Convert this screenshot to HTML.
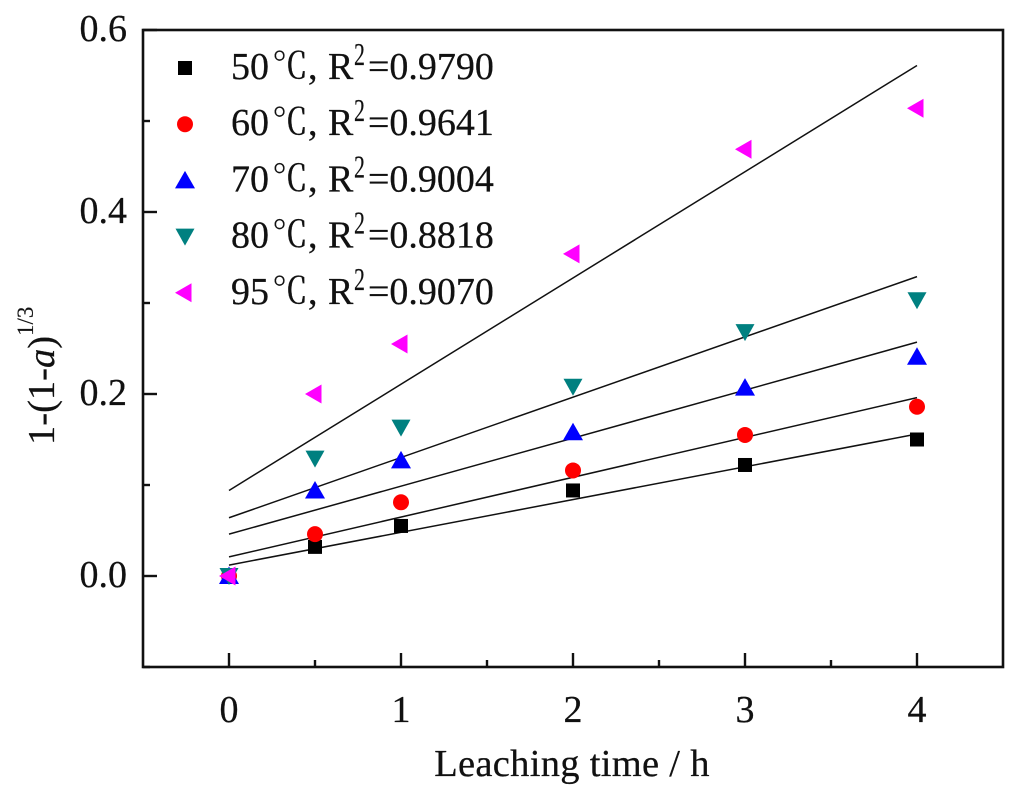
<!DOCTYPE html>
<html lang="en">
<head>
<meta charset="utf-8">
<title>Leaching kinetics chart</title>
<style>
html,body{margin:0;padding:0;background:#fff;}
svg{display:block;}
text{font-family:"Liberation Serif","Noto Serif CJK SC",serif;fill:#111;font-size:38px;stroke:#111;stroke-width:0.25px;}
</style>
</head>
<body>
<svg id="chart" width="1024" height="795" viewBox="0 0 1024 795" xmlns="http://www.w3.org/2000/svg"></svg>
<script>
const times = [0, 0.5, 1, 2, 3, 4];
const seriesNames = ['50', '60', '70', '80', '95'];
const seriesR2 = ['0.9790', '0.9641', '0.9004', '0.8818', '0.9070'];
const series50 = [0, 0.032, 0.055, 0.094, 0.122, 0.150];
const series60 = [0, 0.046, 0.081, 0.116, 0.155, 0.186];
const series70 = [0, 0.094, 0.127, 0.158, 0.207, 0.241];
const series80 = [0, 0.129, 0.163, 0.208, 0.268, 0.303];
const series95 = [0, 0.200, 0.255, 0.354, 0.469, 0.514];
const fitStart = [0.012, 0.021, 0.046, 0.064, 0.094];
const fitEnd = [0.156, 0.196, 0.257, 0.329, 0.561];
const fitTimeRange = [0, 4];
const xTickLabels = ['0', '1', '2', '3', '4'];
const xMinorTicks = [0.5, 1.5, 2.5, 3.5];
const yTickLabels = ['0.0', '0.2', '0.4', '0.6'];
const yMinorTicks = [-0.1, 0.1, 0.3, 0.5];

const NS = 'http://www.w3.org/2000/svg';
const svg = document.getElementById('chart');
const plot = {left: 143, right: 1003, top: 30, bottom: 667};
const xDomain = [-0.5, 4.5];
const yDomain = [-0.1, 0.6];
const colors = ['#000000', '#ff0000', '#0000ff', '#008080', '#ff00ff'];
const allSeries = [series50, series60, series70, series80, series95];

function xScale(v) {
  return plot.left + (v - xDomain[0]) / (xDomain[1] - xDomain[0]) * (plot.right - plot.left);
}
function yScale(v) {
  return plot.bottom - (v - yDomain[0]) / (yDomain[1] - yDomain[0]) * (plot.bottom - plot.top);
}
function make(tag, attrs, parent) {
  const el = document.createElementNS(NS, tag);
  for (const k in attrs) el.setAttribute(k, attrs[k]);
  (parent || svg).appendChild(el);
  return el;
}
function drawMarker(kind, cx, cy, color) {
  let el;
  if (kind === 0) {
    el = make('rect', {x: cx - 7, y: cy - 7, width: 14, height: 14, fill: color});
  } else if (kind === 1) {
    el = make('circle', {cx: cx, cy: cy, r: 8, fill: color});
  } else if (kind === 2) {
    el = make('polygon', {points: [cx, cy - 9.5, cx + 10, cy + 8, cx - 10, cy + 8].join(' '), fill: color});
  } else if (kind === 3) {
    el = make('polygon', {points: [cx - 9.5, cy - 8, cx + 9.5, cy - 8, cx, cy + 9].join(' '), fill: color});
  } else {
    el = make('polygon', {points: [cx - 10, cy, cx + 6.5, cy - 9.5, cx + 6.5, cy + 9.5].join(' '), fill: color});
  }
  return el;
}

/* Frame */
const frame = make('rect', {x: plot.left, y: plot.top, width: plot.right - plot.left, height: plot.bottom - plot.top, fill: 'none', stroke: '#111', 'stroke-width': 2.6});



/* X ticks */
xTickLabels.forEach(function (label) {
  const v = Number(label);
  const x = xScale(v);
  const t = make('line', {x1: x, x2: x, y1: plot.bottom, y2: plot.bottom - 14, stroke: '#111', 'stroke-width': 2.4});
  
  
  const l = make('text', {x: x, y: 722, 'text-anchor': 'middle'});
  l.textContent = label;
  
  
});
xMinorTicks.forEach(function (v) {
  const x = xScale(v);
  const t = make('line', {x1: x, x2: x, y1: plot.bottom, y2: plot.bottom - 7, stroke: '#111', 'stroke-width': 2.4});
  
  
});

/* Y ticks */
yTickLabels.forEach(function (label) {
  const y = yScale(Number(label));
  const t = make('line', {x1: plot.left, x2: plot.left + 14, y1: y, y2: y, stroke: '#111', 'stroke-width': 2.4});
  
  
  const l = make('text', {x: 127, y: y + 11, 'text-anchor': 'end'});
  l.textContent = label;
  
  
});
yMinorTicks.forEach(function (v) {
  const y = yScale(v);
  const t = make('line', {x1: plot.left, x2: plot.left + 7, y1: y, y2: y, stroke: '#111', 'stroke-width': 2.4});
  
  
});

/* Fit lines */
allSeries.forEach(function (_, i) {
  const line = make('line', {
    x1: xScale(fitTimeRange[0]), y1: yScale(fitStart[i]),
    x2: xScale(fitTimeRange[1]), y2: yScale(fitEnd[i]),
    stroke: '#111', 'stroke-width': 1.5
  });
  
  
});

/* Data points */
allSeries.forEach(function (values, i) {
  values.forEach(function (v, j) {
    const m = drawMarker(i, xScale(times[j]), yScale(v), colors[i]);
    
    
  });
});

/* Legend */
seriesNames.forEach(function (name, i) {
  const base = 79 + i * 56.2;
  const mark = drawMarker(i, 185, base - 11, colors[i]);
  
  

  const t1 = make('text', {x: 231, y: base});
  t1.textContent = name;
  
  

  const deg = make('text', {x: 272, y: base - 1, style: 'font-size:36px'});
  deg.textContent = '℃';
  
  

  const comma = make('text', {x: 308, y: base});
  comma.textContent = ',';
  
  

  const r = make('text', {x: 328, y: base});
  r.textContent = 'R';
  
  

  const sup = make('text', {transform: 'translate(354 ' + (base - 14) + ') scale(1 1.45)', style: 'font-size:22px;stroke-width:0.1px'});
  sup.textContent = '2';
  
  

  const val = make('text', {x: 368, y: base});
  val.textContent = '=' + seriesR2[i];
  
  
});

/* Axis titles */
const xTitle = make('text', {x: 572, y: 776, 'text-anchor': 'middle', style: 'font-size:38.5px;letter-spacing:0.3px'});
xTitle.textContent = 'Leaching time / h';



const yTitle = make('text', {transform: 'translate(54 445) rotate(-90)', style: 'font-size:38.5px'});


const s1 = make('tspan', {}, yTitle);
s1.textContent = '1-(1-';
const s2 = make('tspan', {'font-style': 'italic'}, yTitle);
s2.textContent = 'a';
const s3 = make('tspan', {}, yTitle);
s3.textContent = ')';
const s4 = make('tspan', {dy: -21, style: 'font-size:23px;stroke-width:0.1px'}, yTitle);
s4.textContent = '1/3';
</script>
</body>
</html>
